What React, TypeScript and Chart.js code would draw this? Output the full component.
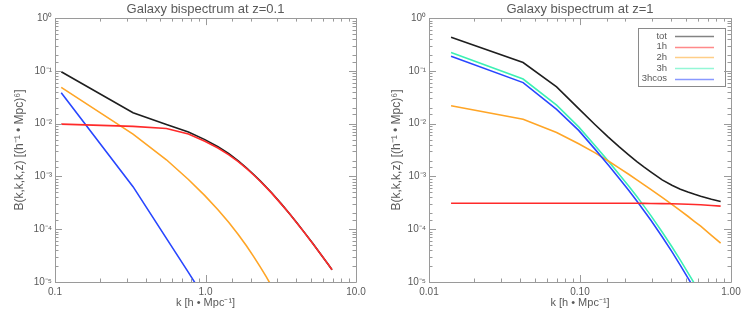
import React, { useEffect, useRef } from 'react';
import { Chart, registerables } from 'chart.js';

Chart.register(...registerables);

// ---------- data: left panel (z = 0.1) ----------
const kLeft = [0.11, 0.33, 0.55, 0.77, 0.99, 1.21, 1.43, 1.65, 1.87, 2.09, 2.31, 2.53, 2.75, 3.19, 3.63, 4.07, 4.51, 5.17, 5.83, 6.49, 6.93];
const totLeft = [0.096, 0.0161, 0.00966, 0.00697, 0.00499, 0.00366, 0.00269, 0.00197, 0.00146, 0.00109, 8.26e-4, 6.31e-4, 4.9e-4, 3.02e-4, 1.95e-4, 1.3e-4, 8.91e-5, 5.35e-5, 3.37e-5, 2.22e-5, 1.71e-5];
const oneHLeft = [0.0098, 0.0089, 0.0081, 0.00635, 0.00465, 0.00345, 0.00257, 0.0019, 0.00142, 0.001065, 8.1e-4, 6.2e-4, 4.83e-4, 2.99e-4, 1.94e-4, 1.29e-4, 8.87e-5, 5.33e-5, 3.36e-5, 2.21e-5, 1.705e-5];
const twoHLeft = [0.0487, 0.00635, 0.00207, 8.75e-4, 4.33e-4, 2.34e-4, 1.34e-4, 7.94e-5, 4.85e-5, 3.03e-5, 1.93e-5, 1.26e-5, 8.36e-6, 3.92e-6];
const threeHLeft = [0.0385, 6.4e-4, 6.7e-5, 1.52e-5, 4.9e-6];

// ---------- data: right panel (z = 1) ----------
const kRight = [0.014, 0.042, 0.07, 0.098, 0.126, 0.154, 0.182, 0.21, 0.238, 0.266, 0.294, 0.35, 0.406, 0.462, 0.518, 0.574, 0.63, 0.742, 0.854];
const totRight = [0.435, 0.1436, 0.0496, 0.0193, 0.00955, 0.00556, 0.00363, 0.00256, 0.00191, 0.0015, 0.00122, 8.61e-4, 6.79e-4, 5.74e-4, 5.06e-4, 4.58e-4, 4.22e-4, 3.7e-4, 3.34e-4];
const oneHRight = [3.1e-4, 3.1e-4, 3.1e-4, 3.1e-4, 3.1e-4, 3.1e-4, 3.1e-4, 3.1e-4, 3.1e-4, 3.09e-4, 3.08e-4, 3.06e-4, 3.04e-4, 3.01e-4, 2.98e-4, 2.94e-4, 2.9e-4, 2.82e-4, 2.74e-4];
const twoHRight = [0.0218, 0.01217, 0.00679, 0.00417, 0.00279, 0.00196, 0.00144, 0.0011, 8.61e-4, 6.93e-4, 5.68e-4, 4.0e-4, 2.95e-4, 2.25e-4, 1.76e-4, 1.4e-4, 1.14e-4, 7.67e-5, 5.43e-5];
const threeHRight = [0.224, 0.07, 0.0225, 0.0087, 0.00381, 0.00195, 0.00109, 6.58e-4, 4.15e-4, 2.71e-4, 1.83e-4, 8.87e-5, 4.66e-5, 2.59e-5, 1.51e-5, 9.24e-6, 5.84e-6];
const threeHcosRight = [0.19, 0.06, 0.0187, 0.00746, 0.00326, 0.00165, 9.18e-4, 5.48e-4, 3.43e-4, 2.22e-4, 1.49e-4, 7.21e-5, 3.76e-5, 2.07e-5, 1.2e-5, 7.33e-6, 4.62e-6];

// ---------- tick labels ----------
const xTickValsLeft = [0.1, 1, 10];
const xTickLabelsLeft = ['0.1', '1.0', '10.0'];
const xTickValsRight = [0.01, 0.1, 1];
const xTickLabelsRight = ['0.01', '0.10', '1.00'];
const seriesLabels = ['tot', '1h', '2h', '3h', '3hcos'];

const TEXT = '#5a5a5a';
const AXIS = '#9a9a9a';
const FONT = '"Liberation Sans", Arial, Helvetica, sans-serif';
const COLORS = {
  tot: '#1e1e1e',
  h1: '#ff2a2a',
  h2: '#ffa526',
  h3: '#3cf0b4',
  h3cos: '#2846ff',
};

const SUP: Record<string, string> = {
  '-': '⁻', '0': '⁰', '1': '¹', '2': '²', '3': '³', '4': '⁴', '5': '⁵', '6': '⁶', '7': '⁷', '8': '⁸', '9': '⁹',
};
const isPow10 = (v: number) => {
  const e = Math.log10(v);
  return Math.abs(e - Math.round(e)) < 1e-6;
};
const yTickLabel = (v: number) =>
  isPow10(v) ? '10' + String(Math.round(Math.log10(v))).split('').map((c) => SUP[c]).join('') : '';

const pts = (ks: number[], vs: number[]) => vs.map((v, i) => ({ x: ks[i], y: v }));

const frameTicks = {
  id: 'frameTicks',
  afterDraw(chart: any) {
    const { ctx, chartArea, scales } = chart;
    const { left, right, top, bottom } = chartArea;
    const x = scales.x;
    const y = scales.y;
    ctx.save();
    ctx.strokeStyle = AXIS;
    ctx.lineWidth = 1;
    ctx.beginPath();
    ctx.rect(Math.round(left) + 0.5, Math.round(top) + 0.5, Math.round(right) - Math.round(left), Math.round(bottom) - Math.round(top));
    ctx.stroke();
    ctx.beginPath();
    for (const t of x.ticks) {
      const px = Math.round(x.getPixelForValue(t.value)) + 0.5;
      const len = isPow10(t.value) ? 7 : 3.5;
      ctx.moveTo(px, bottom);
      ctx.lineTo(px, bottom - len);
      ctx.moveTo(px, top);
      ctx.lineTo(px, top + len);
    }
    for (const t of y.ticks) {
      const py = Math.round(y.getPixelForValue(t.value)) + 0.5;
      const len = isPow10(t.value) ? 7 : 3.5;
      ctx.moveTo(left, py);
      ctx.lineTo(left + len, py);
      ctx.moveTo(right, py);
      ctx.lineTo(right - len, py);
    }
    ctx.stroke();
    ctx.restore();
  },
};

const legendBox = {
  id: 'legendBox',
  afterDatasetsDraw(chart: any, _args: any, opts: any) {
    if (!opts || !opts.show) return;
    const { ctx, chartArea } = chart;
    const bx = chartArea.right - 93;
    const by = chartArea.top + 9.5;
    const bw = 86.5;
    const bh = 58;
    ctx.save();
    ctx.fillStyle = '#ffffff';
    ctx.fillRect(bx, by, bw, bh);
    ctx.strokeStyle = '#8a8a8a';
    ctx.lineWidth = 1;
    ctx.strokeRect(Math.round(bx) + 0.5, Math.round(by) + 0.5, Math.round(bw), Math.round(bh));
    ctx.font = `9.5px ${FONT}`;
    ctx.textAlign = 'right';
    ctx.textBaseline = 'middle';
    const items = chart.data.datasets.slice().sort((a: any, b: any) => a.legendIndex - b.legendIndex);
    items.forEach((ds: any, i: number) => {
      const yy = by + 8.5 + i * 10.6;
      ctx.fillStyle = TEXT;
      ctx.fillText(ds.label, bx + 29, yy);
      ctx.globalAlpha = 0.55;
      ctx.strokeStyle = ds.borderColor;
      ctx.lineWidth = 1.5;
      ctx.beginPath();
      ctx.moveTo(bx + 37, Math.round(yy) + 0.5);
      ctx.lineTo(bx + 76, Math.round(yy) + 0.5);
      ctx.stroke();
      ctx.globalAlpha = 1;
    });
    ctx.restore();
  },
};

function makeConfig(p: {
  title: string;
  datasets: any[];
  xMin: number;
  xMax: number;
  xVals: number[];
  xLabels: string[];
  padRight: number;
  yTitlePad: number;
  legend: boolean;
}): any {
  return {
    type: 'line',
    data: { datasets: p.datasets },
    plugins: [frameTicks, legendBox],
    options: {
      responsive: false,
      animation: false,
      devicePixelRatio: 1,
      layout: { padding: { left: 0, right: p.padRight, top: 0, bottom: 0 } },
      elements: { point: { radius: 0 }, line: { tension: 0 } },
      plugins: {
        legend: { display: false },
        tooltip: { enabled: false },
        legendBox: { show: p.legend },
        title: {
          display: true,
          text: p.title,
          fullSize: false,
          color: TEXT,
          font: { family: FONT, size: 13, weight: 'normal', lineHeight: 1.2 },
          padding: { top: 1.5, bottom: 1 },
        },
      },
      scales: {
        x: {
          type: 'logarithmic',
          min: p.xMin,
          max: p.xMax,
          grid: { display: false, drawTicks: false },
          border: { display: false },
          ticks: {
            autoSkip: false,
            maxRotation: 0,
            minRotation: 0,
            padding: 4,
            color: TEXT,
            font: { family: FONT, size: 10 },
            callback: (v: any) => {
              const i = p.xVals.findIndex((t) => Math.abs(Math.log10(t) - Math.log10(Number(v))) < 1e-6);
              return i >= 0 ? p.xLabels[i] : '';
            },
          },
          title: {
            display: true,
            text: 'k [h • Mpc⁻¹]',
            color: TEXT,
            font: { family: FONT, size: 11, lineHeight: 1.2 },
            padding: { top: 0, bottom: 7 },
          },
          afterFit: (s: any) => {
            s.height = 35;
          },
        },
        y: {
          type: 'logarithmic',
          min: 1e-5,
          max: 1,
          grid: { display: false, drawTicks: false },
          border: { display: false },
          ticks: {
            autoSkip: false,
            padding: 3,
            color: TEXT,
            font: { family: FONT, size: 10 },
            callback: (v: any) => yTickLabel(Number(v)),
          },
          title: {
            display: true,
            text: 'B(k,k,k,z) [(h⁻¹ • Mpc)⁶]',
            color: TEXT,
            font: { family: FONT, size: 12, lineHeight: 1.2 },
            padding: { top: p.yTitlePad, bottom: 0 },
          },
          afterFit: (s: any) => {
            s.width = 55;
          },
        },
      },
    },
  };
}

const line = (label: string, data: any[], color: string, order: number, legendIndex: number) => ({
  label,
  data,
  borderColor: color,
  backgroundColor: color,
  borderWidth: 1.6,
  pointRadius: 0,
  fill: false,
  order,
  legendIndex,
});

export default function App() {
  const leftRef = useRef<HTMLCanvasElement>(null);
  const rightRef = useRef<HTMLCanvasElement>(null);

  useEffect(() => {
    const left = new Chart(
      leftRef.current as HTMLCanvasElement,
      makeConfig({
        title: 'Galaxy bispectrum at z=0.1',
        datasets: [
          line(seriesLabels[0], pts(kLeft, totLeft), COLORS.tot, 3, 0),
          line(seriesLabels[1], pts(kLeft, oneHLeft), COLORS.h1, 1, 1),
          line(seriesLabels[2], pts(kLeft, twoHLeft), COLORS.h2, 2, 2),
          line(seriesLabels[4], pts(kLeft, threeHLeft), COLORS.h3cos, 1, 4),
        ],
        xMin: 0.1,
        xMax: 10,
        xVals: xTickValsLeft,
        xLabels: xTickLabelsLeft,
        padRight: 17,
        yTitlePad: 12.5,
        legend: false,
      })
    );
    const right = new Chart(
      rightRef.current as HTMLCanvasElement,
      makeConfig({
        title: 'Galaxy bispectrum at z=1',
        datasets: [
          line(seriesLabels[0], pts(kRight, totRight), COLORS.tot, 3, 0),
          line(seriesLabels[1], pts(kRight, oneHRight), COLORS.h1, 1, 1),
          line(seriesLabels[2], pts(kRight, twoHRight), COLORS.h2, 2, 2),
          line(seriesLabels[3], pts(kRight, threeHRight), COLORS.h3, 2, 3),
          line(seriesLabels[4], pts(kRight, threeHcosRight), COLORS.h3cos, 1, 4),
        ],
        xMin: 0.01,
        xMax: 1,
        xVals: xTickValsRight,
        xLabels: xTickLabelsRight,
        padRight: 16,
        yTitlePad: 15,
        legend: true,
      })
    );
    return () => {
      left.destroy();
      right.destroy();
    };
  }, []);

  return (
    <div style={{ position: 'absolute', left: 0, top: 0, width: 747, height: 317, background: '#ffffff' }}>
      <canvas ref={leftRef} width={373} height={317} style={{ position: 'absolute', left: 0, top: 0 }} />
      <canvas ref={rightRef} width={373} height={317} style={{ position: 'absolute', left: 374, top: 0 }} />
    </div>
  );
}
